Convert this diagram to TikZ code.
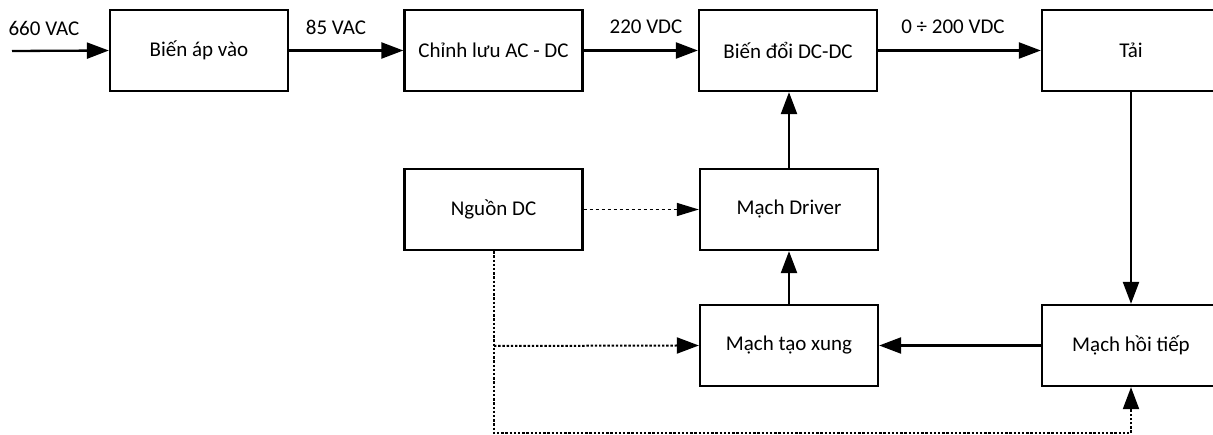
\documentclass[tikz,border=0pt]{standalone}
\usepackage{fontspec}
\setmainfont{Carlito}
\usetikzlibrary{arrows.meta}
\begin{document}
\begin{tikzpicture}[x=1pt,y=-1pt,
  blk/.style={draw,line width=2.3pt,minimum width=178pt,minimum height=81pt,inner sep=0pt,font=\fontsize{21}{23}\selectfont},
  lbl/.style={font=\fontsize{21}{23}\selectfont,inner sep=0pt},
  arr/.style={line width=2.3pt,-{Triangle[length=22pt,width=16pt]}},
  dsh/.style={line width=1.4pt,dash pattern=on 3.5pt off 2.5pt,-{Triangle[length=22pt,width=13pt]}},
  dot/.style={line width=2pt,dash pattern=on 2.4pt off 1.8pt},
  dtip/.style={line width=2pt,-{Triangle[length=22pt,width=16pt]}}]
\clip (0,0) rectangle (1213,435);
\node[blk] (ba) at (199,50.5) {Biến áp vào};
\node[blk] (cl) at (493.5,50.5) {Chỉnh lưu AC - DC};
\node[blk] (bd) at (788,50.5) {Biến đổi DC-DC};
\node[blk] (tai) at (1131,50.5) {Tải};
\node[blk] (ng) at (493.5,209.5) {Nguồn DC};
\node[blk] (dr) at (789,209.5) {Mạch Driver};
\node[blk] (tx) at (789,345.5) {Mạch tạo xung};
\node[blk] (ht) at (1131,345.5) {Mạch hồi tiếp};
\coordinate (in) at (12,51);
\node[lbl] at (44,28) {660 VAC};
\node[lbl] at (336,27) {85 VAC};
\node[lbl] at (646,27) {220 VDC};
\node[lbl] at (953,27) {0 ÷ 200 VDC};
\draw[arr] (in) -- (ba.west);
\draw[arr] (ba.east) -- (cl.west);
\draw[arr] (cl.east) -- (bd.west);
\draw[arr] (bd.east) -- (tai.west);
\draw[arr] (tai.south) -- (ht.north);
\draw[arr] (ht.west) -- (tx.east);
\draw[arr] (tx.north) -- (dr.south);
\draw[arr] (dr.north) -- (bd.south -| dr.north);
\draw[dsh] (ng.east) -- (dr.west);
\coordinate (c1) at (494,346);
\coordinate (c2) at (494,433);
\coordinate (c3) at (1131,433);
\draw[dot] (ng.south -| c1) -- (c2) -- (c3) -- ([yshift=-23pt]ht.south);
\draw[dtip] ([yshift=-22pt]ht.south) -- (ht.south);
\draw[dot] (c1) -- ([xshift=-22pt]tx.west);
\draw[dtip] ([xshift=-22pt]tx.west) -- (tx.west);
\end{tikzpicture}
\end{document}
